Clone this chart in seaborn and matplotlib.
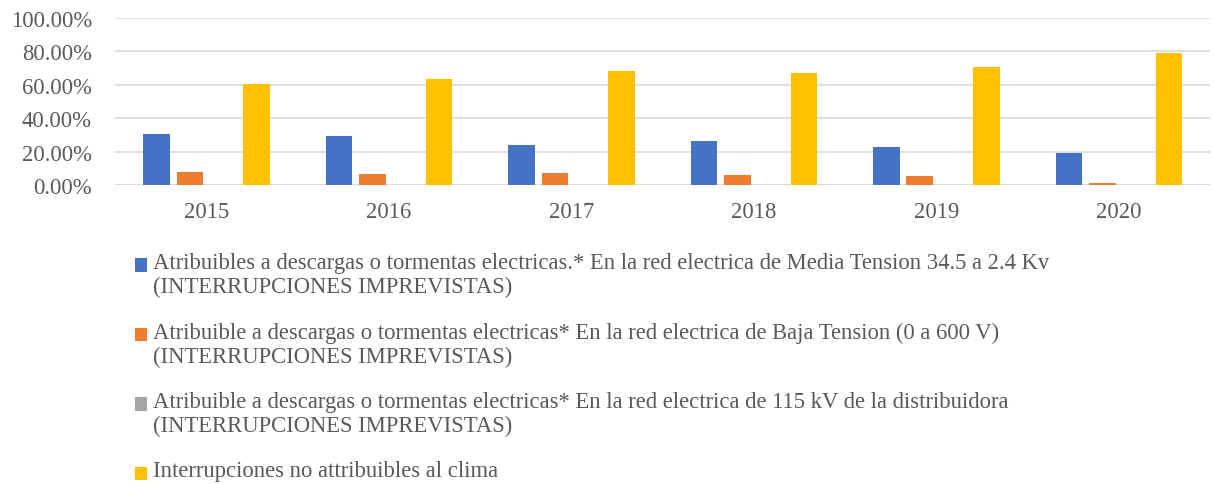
import matplotlib
matplotlib.use("Agg")
import matplotlib.pyplot as plt
import seaborn as sns
import pandas as pd
from matplotlib.ticker import FuncFormatter
from matplotlib.patches import Patch

years = ["2015", "2016", "2017", "2018", "2019", "2020"]
series_names = [
    "Atribuibles a descargas o tormentas electricas.* En la red electrica de Media Tension 34.5 a 2.4 Kv\n(INTERRUPCIONES IMPREVISTAS)",
    "Atribuible a descargas o tormentas electricas* En la red electrica de Baja Tension (0 a 600 V)\n(INTERRUPCIONES IMPREVISTAS)",
    "Atribuible a descargas o tormentas electricas* En la red electrica de 115 kV de la distribuidora\n(INTERRUPCIONES IMPREVISTAS)",
    "Interrupciones no attribuibles al clima",
]
media_tension = [30.4, 29.5, 23.8, 26.2, 22.8, 19.2]
baja_tension = [8.2, 6.6, 7.6, 6.4, 5.8, 1.4]
red_115kv = [0.0, 0.0, 0.0, 0.0, 0.0, 0.0]
no_clima = [60.5, 63.3, 68.1, 67.3, 70.8, 79.0]
colors = ["#4472C4", "#ED7D31", "#A5A5A5", "#FFC000"]

rows = []
for name, vals in zip(series_names, [media_tension, baja_tension, red_115kv, no_clima]):
    for y, v in zip(years, vals):
        rows.append({"year": y, "series": name, "value": v})
df = pd.DataFrame(rows)

sns.set_style("white")
plt.rcParams["font.family"] = ["Liberation Serif", "DejaVu Serif"]
text_color = "#595959"
FS = 16.3
DPI = 100
W, H = 1215, 485

fig = plt.figure(figsize=(W / DPI, H / DPI), dpi=DPI)
ax = fig.add_axes([0.095, 0.616, 0.901, 0.345])
sns.barplot(data=df, x="year", y="value", hue="series", hue_order=series_names,
            palette=colors, width=0.73, gap=0.2, ax=ax, legend=False,
            linewidth=0, saturation=1)
ax.set_ylim(0, 100)
ax.set_yticks([0, 20, 40, 60, 80, 100])
ax.yaxis.set_major_formatter(FuncFormatter(lambda v, p: f"{v:.2f}%"))
ax.grid(axis="y", color="#D9D9D9", linewidth=1.2)
ax.set_axisbelow(True)
for s in ["top", "right", "left", "bottom"]:
    ax.spines[s].set_visible(False)
ax.axhline(0, color="#D9D9D9", linewidth=1.2, zorder=0.5)
ax.set_xlabel("")
ax.set_ylabel("")
ax.tick_params(axis="both", length=0, labelsize=FS, colors=text_color)
ax.tick_params(axis="x", pad=11.5)
ax.tick_params(axis="y", pad=17)
ax.set_xlim(-0.5, 5.5)

handles = [Patch(facecolor=c, edgecolor="none") for c in colors]
px_per_fs = FS * DPI / 72.0

# target layout (pixels from top): top of first label box, centre of last label
TOP0, C3 = 253.0, 472.0
TEXT_LEFT_X = 153.0


def make_legend(spacing, anchor):
    return fig.legend(handles, series_names, loc="upper left",
                      bbox_to_anchor=anchor, frameon=False,
                      fontsize=FS, labelcolor=text_color, handlelength=0.53,
                      handleheight=0.53, handletextpad=0.27,
                      labelspacing=spacing, borderaxespad=0, borderpad=0)


spacing = 0.5
anchor = (0.111, 0.478)
leg = make_legend(spacing, anchor)
for _ in range(3):
    fig.canvas.draw()
    r = fig.canvas.get_renderer()
    t0 = leg.get_texts()[0].get_window_extent(r)
    t3 = leg.get_texts()[3].get_window_extent(r)
    top0 = H - t0.y1
    c3 = H - (t3.y0 + t3.y1) / 2
    spacing += ((C3 - TOP0) - (c3 - top0)) / 3.0 / px_per_fs
    dx = TEXT_LEFT_X - t0.x0
    dy = top0 - TOP0
    anchor = (anchor[0] + dx / W, anchor[1] + dy / H)
    leg.remove()
    leg = make_legend(spacing, anchor)

# align square markers with the first text line of each entry
fig.canvas.draw()
r = fig.canvas.get_renderer()
for txt, patch, lab in zip(leg.get_texts(), leg.legend_handles, series_names):
    tb = txt.get_window_extent(r)
    pb = patch.get_window_extent(r)
    line_centre = tb.y1 - 13.0  # centre of first line's capitals
    delta_px = line_centre - (pb.y0 + pb.y1) / 2
    patch.set_y(patch.get_y() + delta_px * 72.0 / DPI)

fig.savefig("out.png", dpi=DPI)
